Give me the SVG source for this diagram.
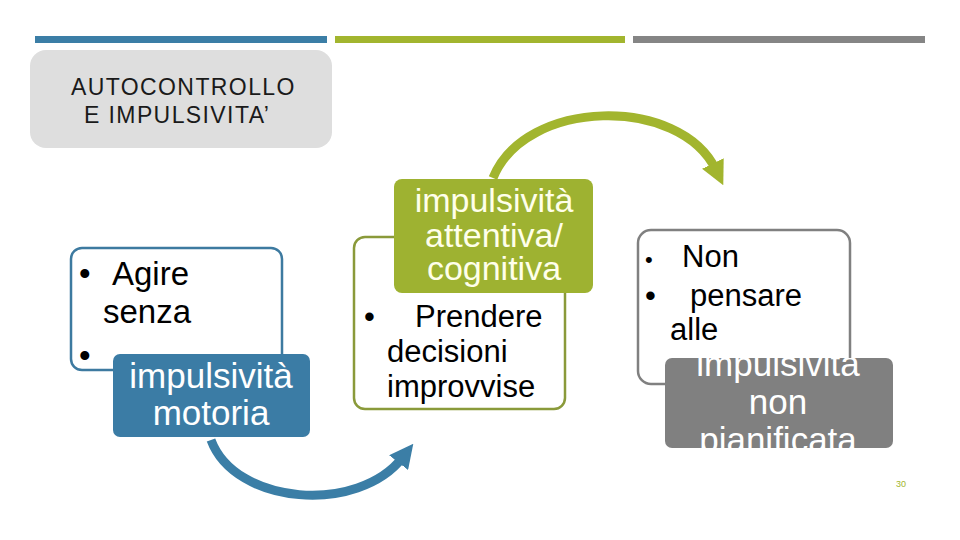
<svg xmlns="http://www.w3.org/2000/svg" width="960" height="540" viewBox="0 0 960 540">
<style>
  .t{font-family:"Liberation Sans",Arial,sans-serif}
  .blk{fill:#000}
  .wht{fill:#fff}
  .cream{fill:#FFFFEA}
  .outline{fill:#fff;stroke-width:2.5}
</style>
<defs>
  <marker id="ahBlue" markerUnits="userSpaceOnUse" markerWidth="24" markerHeight="24" viewBox="0 0 20 20" refX="6" refY="10" orient="auto">
    <path d="M0,0 L20,10 L0,20 z" fill="#3B7EA6"/>
  </marker>
  <marker id="ahGreen" markerUnits="userSpaceOnUse" markerWidth="24" markerHeight="24" viewBox="0 0 20 20" refX="6" refY="10" orient="auto">
    <path d="M0,0 L20,10 L0,20 z" fill="#A2B52E"/>
  </marker>
  <clipPath id="clipGray"><rect x="665" y="358" width="228" height="90" rx="7"/></clipPath>
</defs>
<rect width="960" height="540" fill="#fff"/>
<g id="bars">
  <rect x="35" y="36" width="292" height="7" fill="#3B7EA6"/>
  <rect x="335" y="36" width="290" height="7" fill="#A2B52E"/>
  <rect x="633" y="36" width="292" height="7" fill="#858585"/>
</g>
<g id="title">
  <rect x="30" y="50" width="302" height="98" rx="16" fill="#DEDEDE"/>
  <text class="t" x="71" y="95" font-size="23" letter-spacing="1.4" fill="#1a1a1a">AUTOCONTROLLO</text>
  <text class="t" x="84" y="123" font-size="23" letter-spacing="1.4" fill="#1a1a1a">E IMPULSIVITA’</text>
</g>
<g id="connectors" fill="none" stroke-width="9">
  <path d="M211,440 C235,505 358,515 403,457" stroke="#3B7EA6" marker-end="url(#ahBlue)"/>
  <path d="M493,178 C525,98 680,95 716,170" stroke="#A2B52E" marker-end="url(#ahGreen)"/>
</g>
<g id="node-motoria-detail">
  <rect class="outline" x="71" y="248" width="211" height="122" rx="11" stroke="#3D7AA0"/>
  <text class="t blk" x="79" y="285" font-size="33">•</text>
  <text class="t blk" x="112" y="285" font-size="33">Agire</text>
  <text class="t blk" x="103" y="323" font-size="33">senza</text>
  <text class="t blk" x="79" y="367" font-size="33">•</text>
</g>
<g id="node-motoria">
  <rect x="113" y="354" width="197" height="83" rx="7" fill="#3B7CA5"/>
  <text class="t wht" x="211" y="388" font-size="35" text-anchor="middle">impulsività</text>
  <text class="t wht" x="211" y="425" font-size="35" text-anchor="middle">motoria</text>
</g>
<g id="node-cognitiva-detail">
  <rect class="outline" x="354" y="237" width="211" height="172" rx="11" stroke="#8A9A3A"/>
  <text class="t blk" x="364" y="327" font-size="31">•</text>
  <text class="t blk" x="415" y="327" font-size="31">Prendere</text>
  <text class="t blk" x="387" y="362" font-size="31">decisioni</text>
  <text class="t blk" x="387" y="397" font-size="31">improvvise</text>
</g>
<g id="node-cognitiva">
  <rect x="394" y="179" width="199" height="114" rx="8" fill="#9EB231"/>
  <text class="t cream" x="494" y="212" font-size="34" text-anchor="middle">impulsività</text>
  <text class="t cream" x="494" y="247" font-size="34" text-anchor="middle">attentiva/</text>
  <text class="t cream" x="494" y="280" font-size="34" text-anchor="middle">cognitiva</text>
</g>
<g id="node-pianificata-detail">
  <rect class="outline" x="638" y="230" width="212" height="154" rx="13" stroke="#808080"/>
  <text class="t blk" x="645" y="267" font-size="22">•</text>
  <text class="t blk" x="682" y="267" font-size="31">Non</text>
  <text class="t blk" x="645" y="306" font-size="31">•</text>
  <text class="t blk" x="690" y="306" font-size="31">pensare</text>
  <text class="t blk" x="670" y="340" font-size="31">alle</text>
</g>
<g id="node-pianificata">
  <rect x="665" y="358" width="228" height="90" rx="7" fill="#808080"/>
  <g clip-path="url(#clipGray)">
    <text class="t wht" x="778" y="376" font-size="35" text-anchor="middle">impulsività</text>
    <text class="t wht" x="778" y="414" font-size="35" text-anchor="middle">non</text>
    <text class="t wht" x="778" y="452" font-size="35" text-anchor="middle">pianificata</text>
  </g>
</g>
<g id="page-number">
  <text class="t" x="896" y="487" font-size="9" fill="#A2B52E">30</text>
</g>
</svg>
